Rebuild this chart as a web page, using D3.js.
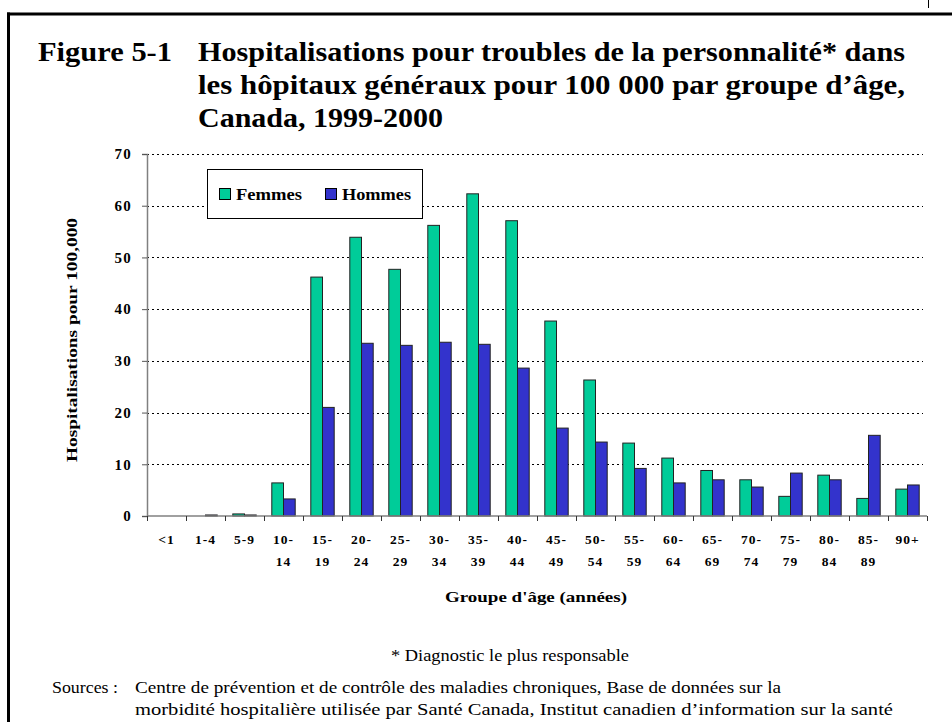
<!DOCTYPE html>
<html><head><meta charset="utf-8">
<script src="https://cdn.jsdelivr.net/npm/d3@7/dist/d3.min.js"></script>
<style>
html,body{margin:0;padding:0;background:#fff;}
svg text{font-family:"Liberation Serif","Times New Roman",serif;}
</style></head>
<body><svg id="c" width="952" height="722"></svg>
<script>
const categories = [["<1"],["1-4"],["5-9"],["10-","14"],["15-","19"],["20-","24"],["25-","29"],["30-","34"],["35-","39"],["40-","44"],["45-","49"],["50-","54"],["55-","59"],["60-","64"],["65-","69"],["70-","74"],["75-","79"],["80-","84"],["85-","89"],["90+"]];
const femmes = [0, 0, 0.4, 6.4, 46.2, 53.9, 47.7, 56.2, 62.3, 57.1, 37.7, 26.3, 14.1, 11.2, 8.8, 7.0, 3.8, 7.9, 3.4, 5.2];
const hommes = [0, 0.2, 0.2, 3.3, 21.0, 33.4, 33.0, 33.6, 33.2, 28.6, 17.0, 14.3, 9.2, 6.4, 7.0, 5.6, 8.3, 7.0, 15.6, 6.0];
const seriesNames = ["Femmes", "Hommes"];
const yTicks = [0, 10, 20, 30, 40, 50, 60, 70];
const titleLines = ["Hospitalisations pour troubles de la personnalité* dans", "les hôpitaux généraux pour 100 000 par groupe d’âge,", "Canada, 1999-2000"];

const colors = ["#00CC99", "#3333CC"];
const svg = d3.select("#c");

// frame
svg.append("line").attr("x1",8.5).attr("x2",8.5).attr("y1",12.5).attr("y2",722).attr("stroke","#000").attr("stroke-width",3);
svg.append("line").attr("x1",7).attr("x2",952).attr("y1",14).attr("y2",14).attr("stroke","#000").attr("stroke-width",3);
svg.append("line").attr("x1",928.5).attr("x2",928.5).attr("y1",0).attr("y2",8).attr("stroke","#000").attr("stroke-width",1);

// title
const titleLen = [707, 707, 245];
svg.append("text").attr("x",38).attr("y",61).attr("font-size",27).attr("font-weight","bold")
  .attr("textLength",134).attr("lengthAdjust","spacingAndGlyphs").text("Figure 5-1");
svg.selectAll(".tl").data(titleLines).join("text").attr("class","tl")
  .attr("x",198).attr("y",(d,i)=>61+i*33).attr("font-size",27).attr("font-weight","bold")
  .attr("textLength",(d,i)=>titleLen[i]).attr("lengthAdjust","spacingAndGlyphs").text(d=>d);

const x0 = d3.scaleBand().domain(d3.range(categories.length)).range([147, 927]).padding(0);
const x1 = d3.scaleBand().domain([0,1]).range([x0.bandwidth()*0.2, x0.bandwidth()*0.8]).padding(0);
const y = d3.scaleLinear().domain([0,70]).range([516,154]);

// grid
svg.append("g").selectAll("line").data(yTicks.filter(t=>t>0)).join("line")
  .attr("x1",147).attr("x2",923).attr("y1",d=>Math.round(y(d))+0.5).attr("y2",d=>Math.round(y(d))+0.5)
  .attr("stroke","#000").attr("stroke-width",1).attr("stroke-dasharray","2,3");

// bars
const g = svg.append("g");
categories.forEach((c,i)=>{
  [femmes[i], hommes[i]].forEach((v,s)=>{
    if (v<=0) return;
    g.append("rect").attr("x",x0(i)+x1(s)).attr("width",x1.bandwidth())
      .attr("y",y(v)).attr("height",y(0)-y(v))
      .attr("fill",colors[s]).attr("stroke","#222").attr("stroke-width",1);
  });
});

// y axis
const yAxis = d3.axisLeft(y).tickValues(yTicks).tickSize(5).tickPadding(10);
const ya = svg.append("g").attr("transform","translate(147,0)").call(yAxis);
ya.select(".domain").attr("stroke","#808080").attr("stroke-width",1.5);
ya.selectAll(".tick line").attr("stroke","#555");
ya.selectAll("text").attr("font-size",15).attr("font-weight","bold").attr("letter-spacing",1.2).attr("fill","#000")
  .attr("font-family","Liberation Serif");

// x axis
const xa = svg.append("g").attr("transform","translate(0,516)");
xa.append("line").attr("x1",147).attr("x2",927).attr("y1",0).attr("y2",0).attr("stroke","#808080").attr("stroke-width",1.5);
xa.selectAll(".xt").data(d3.range(categories.length+1)).join("line")
  .attr("x1",d=>Math.round(147+d*x0.bandwidth())+0.5).attr("x2",d=>Math.round(147+d*x0.bandwidth())+0.5)
  .attr("y1",0).attr("y2",5).attr("stroke","#333");
categories.forEach((c,i)=>{
  c.forEach((t,j)=>{
    xa.append("text").attr("x",x0(i)+x0.bandwidth()/2).attr("y",28+j*22).attr("text-anchor","middle")
      .attr("font-size",13.5).attr("font-weight","bold").attr("letter-spacing",1).text(t);
  });
});

// axis titles
svg.append("text").attr("transform","translate(77,340) rotate(-90)").attr("text-anchor","middle")
  .attr("font-size",15).attr("font-weight","bold").attr("textLength",244).attr("lengthAdjust","spacingAndGlyphs").text("Hospitalisations pour 100,000");
svg.append("text").attr("x",536).attr("y",602).attr("text-anchor","middle")
  .attr("font-size",14).attr("font-weight","bold").attr("textLength",182).attr("lengthAdjust","spacingAndGlyphs").text("Groupe d'âge (années)");

// legend
const lg = svg.append("g");
lg.append("rect").attr("x",207.5).attr("y",169.5).attr("width",215).attr("height",49).attr("fill","#fff").attr("stroke","#000").attr("stroke-width",1);
const lx = [219, 325];
seriesNames.forEach((n,i)=>{
  lg.append("rect").attr("x",lx[i]+0.5).attr("y",188.5).attr("width",11).attr("height",11).attr("fill",colors[i]).attr("stroke","#000");
  lg.append("text").attr("x",lx[i]+17).attr("y",199.5).attr("font-size",16).attr("font-weight","bold")
    .attr("textLength",i===0?66:69).attr("lengthAdjust","spacingAndGlyphs").text(n);
});

// footnotes
svg.append("text").attr("x",510).attr("y",661).attr("text-anchor","middle").attr("font-size",17)
  .attr("textLength",238).attr("lengthAdjust","spacingAndGlyphs").text("* Diagnostic le plus responsable");
svg.append("text").attr("x",52).attr("y",693).attr("font-size",17).attr("textLength",66).attr("lengthAdjust","spacingAndGlyphs").text("Sources :");
svg.append("text").attr("x",135).attr("y",693).attr("font-size",17).attr("textLength",646).attr("lengthAdjust","spacingAndGlyphs")
  .text("Centre de prévention et de contrôle des maladies chroniques, Base de données sur la");
svg.append("text").attr("x",135).attr("y",715).attr("font-size",17).attr("textLength",758).attr("lengthAdjust","spacingAndGlyphs")
  .text("morbidité hospitalière utilisée par Santé Canada, Institut canadien d’information sur la santé");
</script></body></html>
